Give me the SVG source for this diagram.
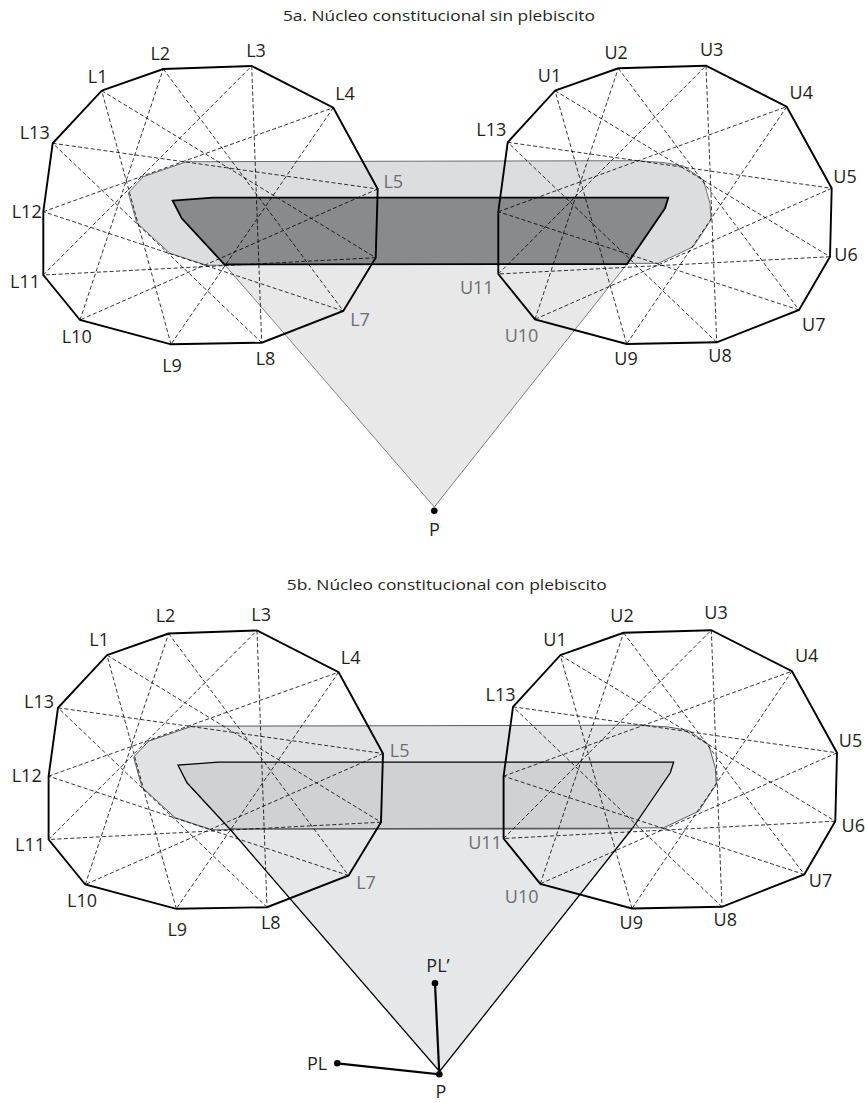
<svg xmlns="http://www.w3.org/2000/svg" width="867" height="1103" viewBox="0 0 867 1103">
<style>
text{font-family:"Open Sans","Liberation Sans",sans-serif;}
.lab{font-size:18px;fill:#231f20;text-anchor:middle;}
.gl{fill:#6d6e71;}
.title{font-size:15px;fill:#231f20;text-anchor:middle;}
.poly{fill:none;stroke:#000;stroke-width:1.9;stroke-linejoin:miter;}
.dash{fill:none;stroke:#000;stroke-width:0.8;stroke-dasharray:4 2.4;}
.rndA{fill:#dcddde;stroke:#6d6e71;stroke-width:1;}
.triA{fill:#e8e8e8;stroke:#808080;stroke-width:1;}
.bandA{fill:#898a8c;stroke:#000;stroke-width:1.8;stroke-linejoin:miter;}
.rndB{fill:#e1e2e4;stroke:#58595b;stroke-width:1;}
.triB{fill:#e6e7e8;stroke:none;}
.bandB{fill:#d0d1d3;stroke:none;}
.edgeB{fill:none;stroke:#000;stroke-width:1.3;}
.botB{fill:none;stroke:#58595b;stroke-width:1.6;}
.dot{fill:#000;}
.pline{fill:none;stroke:#000;stroke-width:2.2;}
</style>
<defs>
<path id="rnd" d="M186.7,161.7 L636.7,160.7 L663,162.5 L683.3,166 L703.3,180 L710,203.3 L711,220 L693.3,246.7 L658.3,263.3 L206.7,265.3 L170,253.3 L136.7,222.7 L128.3,192.7 L143.3,176.7 Z"/>
<path id="tri" d="M224.5,264.5 L627,264 L434.3,507 Z"/>
<path id="band" d="M172.7,200.7 L213,197.7 L668.3,197.7 L665,208.3 L627,264 L224.5,264.5 L181.7,218.3 Z"/>
<polygon id="polyL" points="101.7,90.7 163.3,69 251.7,66 333.3,107.7 377.7,189 375.7,257.7 343.3,311 261.7,342.7 171,344.3 80,320 43.3,275 43.3,211.7 52.7,143.3"/>
<polygon id="polyR" points="555,90.7 618.3,68.3 706,65.7 786.7,106.7 831.7,188.3 830,256.7 799,310 716.7,342.3 626.7,344 535,319.3 498.3,274 498.3,211.7 507.7,142.3"/>
<path id="dashL" d="M101.7,90.7 L375.7,257.7 M163.3,69 L343.3,311 M251.7,66 L261.7,342.7 M333.3,107.7 L171,344.3 M377.7,189 L80,320 M375.7,257.7 L43.3,275 M343.3,311 L43.3,211.7 M261.7,342.7 L52.7,143.3 M171,344.3 L101.7,90.7 M80,320 L163.3,69 M43.3,275 L251.7,66 M43.3,211.7 L333.3,107.7 M52.7,143.3 L377.7,189"/>
<path id="dashR" d="M555,90.7 L830,256.7 M618.3,68.3 L799,310 M706,65.7 L716.7,342.3 M786.7,106.7 L626.7,344 M831.7,188.3 L535,319.3 M830,256.7 L498.3,274 M799,310 L498.3,211.7 M716.7,342.3 L507.7,142.3 M626.7,344 L555,90.7 M535,319.3 L618.3,68.3 M498.3,274 L706,65.7 M498.3,211.7 L786.7,106.7 M507.7,142.3 L831.7,188.3"/>
</defs>

<g id="diagram-5a">
<text id="title-5a" class="title" x="438.9" y="20.7" textLength="312" lengthAdjust="spacingAndGlyphs">5a. Núcleo constitucional sin plebiscito</text>
<g id="core-region-5a">
<use href="#rnd" class="rndA"/>
<use href="#tri" class="triA"/>
<use href="#band" class="bandA"/>
</g>
<g id="connectors-5a">
<use href="#dashL" class="dash"/>
<use href="#dashR" class="dash"/>
</g>
<g id="polygon-L-5a">
<use href="#polyL" class="poly"/>
<text class="lab" x="97.7" y="83.3">L1</text>
<text class="lab" x="160.3" y="60">L2</text>
<text class="lab" x="256" y="57.3">L3</text>
<text class="lab" x="345" y="100">L4</text>
<text class="lab gl" x="393.3" y="188.3">L5</text>
<text class="lab gl" x="360" y="325.7">L7</text>
<text class="lab" x="265.5" y="364.8">L8</text>
<text class="lab" x="172" y="371.8">L9</text>
<text class="lab" x="76.7" y="343">L10</text>
<text class="lab" x="25" y="288.3">L11</text>
<text class="lab" x="26.7" y="218.3">L12</text>
<text class="lab" x="34.7" y="139">L13</text>
</g>
<g id="polygon-U-5a">
<use href="#polyR" class="poly"/>
<text class="lab" x="549.5" y="82.3">U1</text>
<text class="lab" x="616.2" y="59">U2</text>
<text class="lab" x="711.7" y="56">U3</text>
<text class="lab" x="801.3" y="99">U4</text>
<text class="lab" x="845" y="183.3">U5</text>
<text class="lab" x="846" y="260.7">U6</text>
<text class="lab" x="813.8" y="330.7">U7</text>
<text class="lab" x="720" y="361.8">U8</text>
<text class="lab" x="626" y="364.8">U9</text>
<text class="lab gl" x="521.5" y="341.7">U10</text>
<text class="lab gl" x="476.8" y="294">U11</text>
<text class="lab" x="491.3" y="136">L13</text>
</g>
<g id="point-P-5a">
<circle class="dot" cx="434.3" cy="510.7" r="3.3"/>
<text class="lab" x="434.3" y="536">P</text>
</g>
</g>

<g id="diagram-5b">
<text id="title-5b" class="title" x="446.7" y="590" textLength="320" lengthAdjust="spacingAndGlyphs">5b. Núcleo constitucional con plebiscito</text>
<g id="core-region-5b" transform="translate(5.3,564.5)">
<use href="#rnd" class="rndB"/>
<use href="#tri" class="triB"/>
<use href="#band" class="bandB"/>
<path class="edgeB" d="M224.5,264.5 L181.7,218.3 L172.7,200.7 L213,197.7 L668.3,197.7 L665,208.3 L627,264"/>
<path class="botB" d="M224.5,264.5 L627,264"/>
<path class="edgeB" d="M224.5,264.5 L434.3,507 L627,264"/>
</g>
<g id="connectors-5b" transform="translate(5.3,564.5)">
<use href="#dashL" class="dash"/>
<use href="#dashR" class="dash"/>
</g>
<g id="polygon-L-5b">
<use href="#polyL" class="poly" transform="translate(5.3,564.5)"/>
<text class="lab" x="99.2" y="646">L1</text>
<text class="lab" x="165.5" y="622.3">L2</text>
<text class="lab" x="261.2" y="620.7">L3</text>
<text class="lab" x="350.7" y="664.3">L4</text>
<text class="lab gl" x="399.7" y="756.7">L5</text>
<text class="lab gl" x="366" y="889.3">L7</text>
<text class="lab" x="270.8" y="929.3">L8</text>
<text class="lab" x="177.3" y="936.3">L9</text>
<text class="lab" x="82" y="907.3">L10</text>
<text class="lab" x="30" y="850.7">L11</text>
<text class="lab" x="26.7" y="781.7">L12</text>
<text class="lab" x="39" y="707.7">L13</text>
</g>
<g id="polygon-U-5b">
<use href="#polyR" class="poly" transform="translate(5.3,564.5)"/>
<text class="lab" x="555" y="645.7">U1</text>
<text class="lab" x="622" y="621.7">U2</text>
<text class="lab" x="716" y="619.3">U3</text>
<text class="lab" x="806.7" y="661.7">U4</text>
<text class="lab" x="850.5" y="746.7">U5</text>
<text class="lab" x="853.3" y="831.7">U6</text>
<text class="lab" x="820.5" y="886.7">U7</text>
<text class="lab" x="725.3" y="926.3">U8</text>
<text class="lab" x="631.3" y="929.3">U9</text>
<text class="lab gl" x="521.7" y="903.3">U10</text>
<text class="lab gl" x="485" y="849.3">U11</text>
<text class="lab" x="500.5" y="700.7">L13</text>
</g>
<g id="points-5b">
<path class="pline" d="M337.3,1063.3 L439.3,1074.3 L435,983.3"/>
<circle class="dot" cx="439.3" cy="1074.3" r="3.3"/>
<circle class="dot" cx="435" cy="983.3" r="3.3"/>
<circle class="dot" cx="337.3" cy="1063.3" r="3.3"/>
<text class="lab" x="440.8" y="1098">P</text>
<text class="lab" x="438" y="972.3">PL’</text>
<text class="lab" x="317" y="1070">PL</text>
</g>
</g>
</svg>
